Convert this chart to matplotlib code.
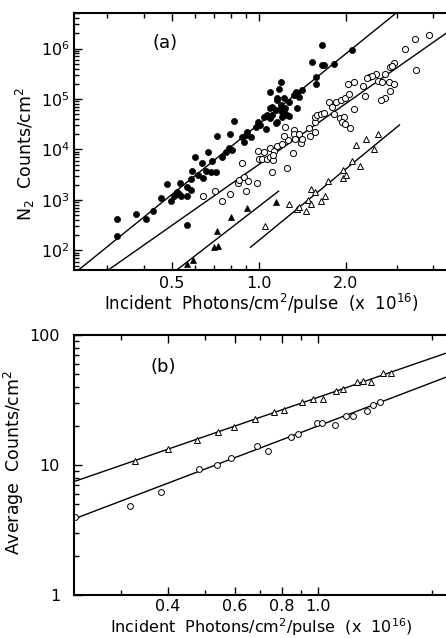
import numpy as np
import matplotlib
matplotlib.use("Agg")
import matplotlib.pyplot as plt
from matplotlib.ticker import FixedLocator, LogLocator, NullFormatter, FixedFormatter

plt.rcParams['font.family'] = ['DejaVu Sans']
plt.rcParams['mathtext.fontset'] = 'dejavusans'

# ---------------- panel (a) data ----------------
filled_x = [0.323, 0.323, 0.377, 0.409, 0.430, 0.459, 0.483, 0.496, 0.509, 0.523,
            0.530, 0.537, 0.534, 0.563, 0.563, 0.581, 0.581, 0.589, 0.601, 0.616,
            0.638, 0.643, 0.669, 0.681, 0.713, 0.687, 0.566, 0.655, 0.748, 0.768,
            0.788, 0.810, 0.719, 0.794, 0.820, 0.877, 0.888, 0.900, 0.912, 0.936,
            0.974, 0.992, 1.008, 1.040, 1.055, 1.069, 1.055, 1.097, 1.097, 1.097,
            1.112, 1.112, 1.142, 1.142, 1.157, 1.157, 1.157, 1.176, 1.188, 1.188,
            1.204, 1.204, 1.204, 1.219, 1.219, 1.236, 1.253, 1.269, 1.269, 1.320,
            1.341, 1.356, 1.356, 1.374, 1.411, 1.528, 1.581, 1.581, 1.654, 1.654,
            1.685, 1.814, 2.100]
filled_y = [427, 194, 521, 427, 614, 1081, 2103, 955, 1217, 1460,
            1297, 1200, 2200, 1200, 316, 1578, 2570, 3700, 7010, 3126,
            5480, 2765, 8810, 3630, 3540, 6000, 1783, 3800, 7010, 9040,
            10570, 9770, 18500, 20000, 37200, 17450, 14270, 19380, 22500, 17900,
            28300, 35500, 30550, 44650, 46060, 48200, 25100, 41500, 65400, 139600,
            48200, 70400, 33950, 60560, 95500, 35500, 103300, 155600, 220200, 76100,
            65400, 56100, 43450, 103300, 56100, 65400, 48200, 88500, 46060, 120000,
            137600, 129700, 65400, 111100, 150700, 533000, 276500, 198200, 1.17e6, 471000,
            471000, 493500, 933000]

open_x = [0.640, 0.705, 0.748, 0.792, 0.849, 0.853, 0.888, 0.916, 0.905, 0.987,
          1.112, 0.877, 1.000, 1.027, 1.063, 1.097, 1.121, 0.992, 1.040, 1.097,
          1.126, 1.157, 1.204, 1.261, 1.226, 1.253, 1.121, 1.314, 1.236, 1.322,
          1.322, 1.374, 1.338, 1.393, 1.411, 1.487, 1.499, 1.569, 1.563, 1.569,
          1.594, 1.633, 1.676, 1.743, 1.791, 1.814, 1.853, 1.923, 1.991, 2.027,
          2.043, 2.126, 2.126, 2.284, 2.333, 2.395, 1.913, 1.964, 1.939, 1.991,
          2.060, 3.879, 3.462, 3.198, 3.498, 2.938, 2.846, 2.735, 2.546, 2.460,
          2.365, 2.581, 2.664, 2.808, 2.938, 2.830, 2.720, 2.643, 2.891]
open_y = [1200, 1528, 955, 1297, 2200, 2490, 2816, 2378, 1528, 2142,
          3630, 5480, 6575, 6575, 6575, 7010, 6195, 9340, 9040, 10570,
          9470, 11730, 12850, 15070, 18500, 4245, 7780, 8410, 27540, 23770,
          20280, 20280, 15920, 13270, 16140, 26300, 18500, 21730, 35500, 45000,
          48200, 49780, 52100, 88500, 68500, 49780, 88500, 95500, 103300, 195500,
          125600, 214000, 63400, 183400, 116200, 276500, 41500, 43450, 35500, 31550,
          26300, 1.82e6, 1.56e6, 964000, 375200, 509000, 436300, 308500, 312600, 289000,
          257000, 227200, 220200, 220200, 198200, 144000, 106100, 96800, 450000]

ftri_x = [0.566, 0.594, 0.698, 0.722, 0.719, 0.799, 0.907, 1.146]
ftri_y = [53.3, 63.4, 117, 124, 238, 454, 686, 891]

otri_x = [1.049, 1.276, 1.356, 1.374, 1.457, 1.476, 1.516, 1.516, 1.560, 1.633,
          1.698, 1.729, 1.949, 1.955, 2.006, 2.100, 2.242, 2.173, 2.346, 2.573, 2.506]
otri_y = [310, 833, 655, 737, 606, 1000, 833, 1629, 1440, 968,
          1217, 2378, 3926, 2690, 3126, 5920, 4710, 12270, 15920, 20000, 10090]

# fitted power-law lines: y = y_at_1 * x**slope over [x_lo, x_hi]
a_fit_slope = [4.64, 4.02, 4.44, 4.71]
a_fit_y_at_1 = [3.18e4, 5.04e3, 745, 158]
a_fit_xlo = [0.2, 0.2, 0.2, 0.936]
a_fit_xhi = [3.5, 5.0, 1.17, 3.06]

a_xticks = [0.5, 1.0, 2.0]
a_xticklabels = ["0.5", "1.0", "2.0"]
a_yticks = [1e2, 1e3, 1e4, 1e5, 1e6]
a_yticklabels = [r"$10^2$", r"$10^3$", r"$10^4$", r"$10^5$", r"$10^6$"]

# ---------------- panel (b) data ----------------
b_tri_x = [0.327, 0.401, 0.476, 0.543, 0.599, 0.680, 0.763, 0.811, 0.904, 0.966,
           1.027, 1.114, 1.165, 1.264, 1.316, 1.377, 1.486, 1.555]
b_tri_y = [10.8, 13.3, 15.5, 17.85, 19.5, 22.6, 25.7, 26.5, 30.4, 32.0,
           32.4, 37.3, 38.2, 43.5, 44.5, 43.7, 51.3, 50.7]
b_circ_x = [0.227, 0.318, 0.384, 0.484, 0.538, 0.588, 0.687, 0.737, 0.845, 0.882,
            0.990, 1.025, 1.109, 1.182, 1.233, 1.343, 1.398, 1.457]
b_circ_y = [3.96, 4.86, 6.17, 9.31, 10.05, 11.3, 14.1, 12.9, 16.3, 17.2,
            20.9, 20.9, 20.2, 23.8, 23.8, 26.2, 28.9, 30.4]

b_fit_slope = [1.003, 1.107]
b_fit_y_at_1 = [33.2, 20.0]

b_xticks = [0.4, 0.6, 0.8, 1.0]
b_xticklabels = ["0.4", "0.6", "0.8", "1.0"]
b_yticks = [1, 10, 100]
b_yticklabels = ["1", "10", "100"]

xlabel_text = r"Incident  Photons/cm$^2$/pulse  (x  10$^{16}$)"

W, H = 446, 638
fig = plt.figure(figsize=(W / 100, H / 100), dpi=100)
axA = fig.add_axes([74 / W, (H - 270) / H, 374 / W, 257 / H])
axB = fig.add_axes([74 / W, (H - 595) / H, 374 / W, 260 / H])

for ax in (axA, axB):
    ax.set_xscale('log')
    ax.set_yscale('log')
    for s in ax.spines.values():
        s.set_linewidth(1.5)
    ax.spines['right'].set_visible(False)
    ax.tick_params(which='both', direction='in', top=True, right=False, width=1.0)
    ax.tick_params(which='major', length=6, labelsize=11.5)
    ax.tick_params(which='minor', length=3.5)

# ---- panel (a)
axA.set_xlim(0.23, 4.5)
axA.set_ylim(41, 5.05e6)
for sl, y1, lo, hi in zip(a_fit_slope, a_fit_y_at_1, a_fit_xlo, a_fit_xhi):
    xx = np.geomspace(lo, hi, 60)
    axA.plot(xx, y1 * xx ** sl, color='black', lw=1.0)
axA.plot(filled_x, filled_y, 'o', ms=4.4, mfc='black', mec='black', mew=0.5)
axA.plot(open_x, open_y, 'o', ms=4.4, mfc='white', mec='black', mew=0.7)
axA.plot(ftri_x, ftri_y, '^', ms=4.8, mfc='black', mec='black', mew=0.5)
axA.plot(otri_x, otri_y, '^', ms=4.8, mfc='white', mec='black', mew=0.7)
axA.xaxis.set_major_locator(FixedLocator(a_xticks))
axA.xaxis.set_major_formatter(FixedFormatter(a_xticklabels))
axA.xaxis.set_minor_locator(LogLocator(base=10, subs=np.arange(1, 10)))
axA.xaxis.set_minor_formatter(NullFormatter())
axA.yaxis.set_major_locator(FixedLocator(a_yticks))
axA.yaxis.set_major_formatter(FixedFormatter(a_yticklabels))
axA.yaxis.set_minor_locator(LogLocator(base=10, subs=np.arange(2, 10)))
axA.yaxis.set_minor_formatter(NullFormatter())
axA.tick_params(axis='y', which='major', pad=3)
axA.tick_params(axis='x', which='major', pad=4)
axA.set_xlabel(xlabel_text, fontsize=12)
axA.xaxis.set_label_coords(0.5, -0.086)
axA.set_ylabel(r"N$_2$  Counts/cm$^2$", fontsize=12.5)
axA.yaxis.set_label_coords(-0.10, 0.45)
axA.text(0.243, 0.883, "(a)", transform=axA.transAxes, fontsize=13,
         ha='center', va='center')

# ---- panel (b)
axB.set_xlim(0.2255, 2.205)
axB.set_ylim(1, 100)
for sl, y1 in zip(b_fit_slope, b_fit_y_at_1):
    xx = np.geomspace(0.2, 2.3, 60)
    axB.plot(xx, y1 * xx ** sl, color='black', lw=1.0)
axB.plot(b_tri_x, b_tri_y, '^', ms=4.2, mfc='white', mec='black', mew=0.7)
axB.plot(b_circ_x, b_circ_y, 'o', ms=4.2, mfc='white', mec='black', mew=0.7)
axB.xaxis.set_major_locator(FixedLocator(b_xticks))
axB.xaxis.set_major_formatter(FixedFormatter(b_xticklabels))
axB.xaxis.set_minor_locator(LogLocator(base=10, subs=np.arange(1, 10)))
axB.xaxis.set_minor_formatter(NullFormatter())
axB.yaxis.set_major_locator(FixedLocator(b_yticks))
axB.yaxis.set_major_formatter(FixedFormatter(b_yticklabels))
axB.yaxis.set_minor_locator(LogLocator(base=10, subs=np.arange(2, 10)))
axB.yaxis.set_minor_formatter(NullFormatter())
axB.tick_params(axis='y', which='major', pad=10)
axB.tick_params(axis='x', which='major', pad=3)
axB.set_xlabel(xlabel_text, fontsize=11.5)
axB.xaxis.set_label_coords(0.5, -0.080)
axB.set_ylabel(r"Average  Counts/cm$^2$", fontsize=12.5)
axB.yaxis.set_label_coords(-0.128, 0.508)
axB.text(0.239, 0.878, "(b)", transform=axB.transAxes, fontsize=13,
         ha='center', va='center')

fig.savefig("out.png", dpi=100)
